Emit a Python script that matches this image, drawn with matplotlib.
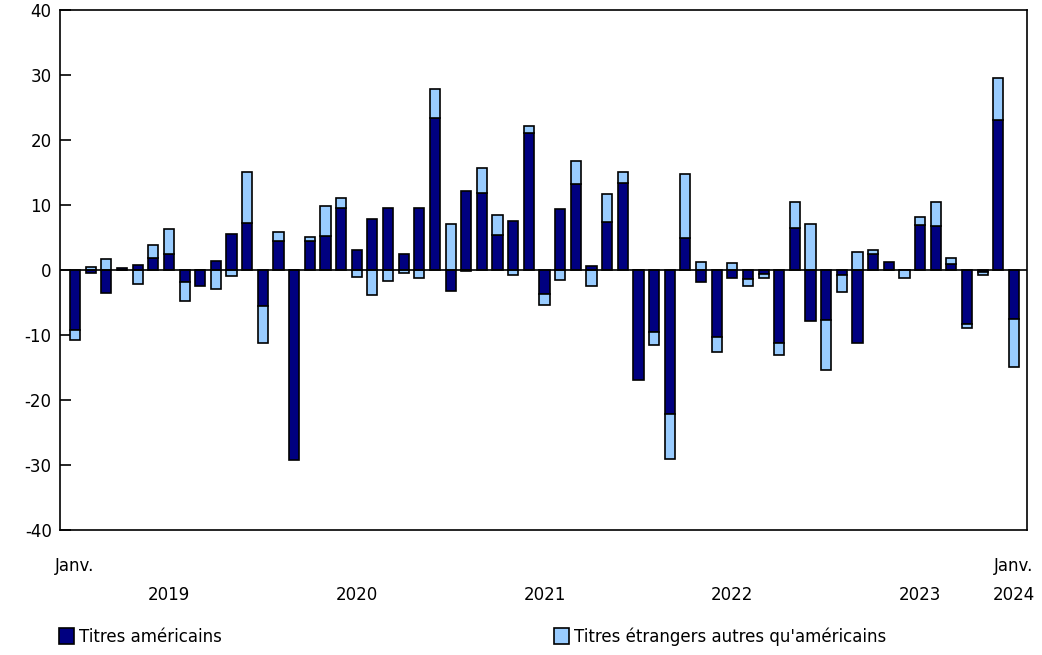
import numpy as np
import matplotlib
matplotlib.use("Agg")
import matplotlib.pyplot as plt
from matplotlib.patches import Patch
from matplotlib.transforms import blended_transform_factory

# monthly values, Jan 2019 .. Jan 2024 (61 months)
us = [-9.2, -0.5, -3.5, 0.3, 0.7, 1.8, 2.4, -1.9, -2.4, 1.4, 5.6, 7.2,
      -5.6, 4.4, -29.2, 4.4, 5.2, 9.5, 3.1, 7.8, 9.5, 2.5, 9.6, 23.4,
      -3.3, 12.2, 11.9, 5.4, 7.6, 21.0, -3.7, 9.4, 13.3, 0.6, 7.4, 13.4,
      -16.9, -9.5, -22.1, 4.9, -1.8, -10.3, -1.2, -1.4, -0.6, -11.3, 6.4, -7.8,
      -7.7, -0.7, -11.3, 2.5, 1.3, 0.0, 6.9, 6.8, 0.9, -8.3, -0.3, 23.1,
      -7.6]
foreign = [-1.6, 0.5, 1.7, 0.0, -2.2, 2.0, 3.9, -2.9, 0.0, -2.9, -1.0, 7.8,
           -5.7, 1.4, 0.0, 0.6, 4.7, 1.5, -1.1, -3.9, -1.7, -0.4, -1.3, 4.4,
           7.0, -0.1, 3.8, 3.0, -0.7, 1.2, -1.7, -1.6, 3.5, -2.5, 4.3, 1.6,
           0.0, -2.0, -6.9, 9.9, 1.2, -2.3, 1.0, -1.0, -0.6, -1.8, 4.0, 7.0,
           -7.7, -2.7, 2.8, 0.5, 0.0, -1.3, 1.3, 3.6, 0.9, -0.7, -0.5, 6.4,
           -7.3]
year_labels = ["2019", "2020", "2021", "2022", "2023"]
year_pos = [6, 18, 30, 42, 54]

us = np.array(us)
foreign = np.array(foreign)
x = np.arange(len(us))

DARK = "#000080"
LIGHT = "#99ccff"

plt.rcParams["font.family"] = ["DejaVu Sans"]
plt.rcParams["axes.unicode_minus"] = False
fig = plt.figure(figsize=(10.42, 6.55), dpi=100)
ax = fig.add_axes([0.0576, 0.1908, 0.928, 0.794])

# stack foreign on top of US when same sign, else start from zero
bottom_f = np.where(np.sign(us) == np.sign(foreign), us, 0.0)
w = 0.65
ax.bar(x, us, width=w, color=DARK, edgecolor="black", linewidth=1.2, zorder=3)
ax.bar(x, foreign, bottom=bottom_f, width=w, color=LIGHT, edgecolor="black",
       linewidth=1.2, zorder=3)
ax.axhline(0, color="black", lw=1.2, zorder=4)

ax.set_xlim(-0.96, 60.83)
ax.set_ylim(-40, 40)
ax.set_yticks(range(-40, 41, 10))
ax.tick_params(axis="y", direction="in", length=8, width=1.2, labelsize=12, pad=6)
ax.set_xticks([])
for s in ax.spines.values():
    s.set_linewidth(1.2)

tr = blended_transform_factory(ax.transData, ax.transAxes)
ax.text(0, -0.07, "Janv.", transform=tr, ha="center", va="center", fontsize=12)
ax.text(60, -0.07, "Janv.", transform=tr, ha="center", va="center", fontsize=12)
ax.text(60, -0.124, "2024", transform=tr, ha="center", va="center", fontsize=12)
for p, lab in zip(year_pos, year_labels):
    ax.text(p, -0.124, lab, transform=tr, ha="center", va="center", fontsize=12)

h1 = Patch(facecolor=DARK, edgecolor="black", linewidth=1.2)
h2 = Patch(facecolor=LIGHT, edgecolor="black", linewidth=1.2)
kw = dict(frameon=False, fontsize=12, handlelength=0.9, handleheight=1.1,
          handletextpad=0.3, borderaxespad=0, borderpad=0)
fig.legend([h1], ["Titres américains"], loc="center left",
           bbox_to_anchor=(0.057, 0.028), **kw)
fig.legend([h2], ["Titres étrangers autres qu'américains"], loc="center left",
           bbox_to_anchor=(0.532, 0.028), **kw)

fig.savefig("out.png", dpi=100)
